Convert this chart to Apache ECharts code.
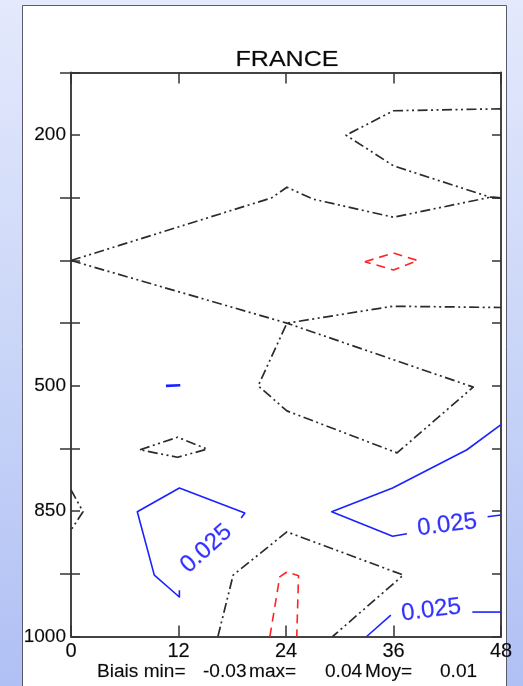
<!DOCTYPE html>
<html>
<head>
<meta charset="utf-8">
<script src="https://cdn.jsdelivr.net/npm/echarts/dist/echarts.min.js"></script>
<style>
  html, body { margin: 0; padding: 0; }
  #chart { width: 523px; height: 686px; }
</style>
</head>
<body>
<div id="chart"></div>
<script>
// Forecast hours on the x axis and pressure levels (hPa) on the y axis
const hourTicks = [0, 12, 24, 36, 48];
const levels = [100, 200, 250, 300, 400, 500, 700, 850, 925, 1000];
const labelledLevels = [200, 500, 850, 1000];

// Contour level drawn for the positive bias
const contourLevel = 0.025;

// Bias statistics written under the chart: min, max, mean
const biasStats = [-0.03, 0.04, 0.01];

// Contour polylines as [forecast hour, level index] pairs
// zero-bias contours
const zeroLines = [
  [[48, 0.58], [36, 0.61], [30.7, 1.0], [36, 1.49], [46.8, 1.99], [48, 2.0]],
  [[0, 3.0], [22.4, 2.0], [24.1, 1.83], [27.0, 2.02], [36, 2.31], [46.8, 1.99], [48, 2.0]],
  [[0, 3.0], [24.1, 4.0], [44.9, 5.02], [36.4, 6.07], [24.1, 5.4], [20.9, 5.0], [24.1, 4.0], [35.9, 3.73], [48, 3.75]],
  [[7.7, 6.02], [11.9, 5.82], [15.2, 6.01], [11.9, 6.14], [7.7, 6.02]],
  [[0, 6.66], [1.34, 7.01], [0, 7.3]],
  [[16.4, 9.0], [18.1, 8.02], [24.1, 7.33], [37.1, 8.02], [29.2, 9.0]]
];
// negative-bias contours
const negLines = [
  [[22.2, 9.0], [23.3, 8.05], [24.1, 7.97], [25.4, 8.03], [25.2, 9.0]],
  [[32.8, 3.02], [36.0, 2.88], [38.7, 3.0], [36.0, 3.15], [32.8, 3.02]]
];
// positive-bias contours (0.025), broken where the level label sits
const posLines = [
  [[19.0, 7.11], [19.4, 7.03], [12.1, 6.63], [7.4, 7.01], [9.3, 8.02], [12.1, 8.37], [12.1, 8.26]],
  [[48, 5.62], [44.2, 6.02], [35.9, 6.63], [29.1, 7.01], [35.9, 7.40], [37.5, 7.36]],
  [[46.5, 7.09], [48, 7.06]],
  [[33.0, 9.0], [35.7, 8.66]],
  [[44.8, 8.61], [48, 8.61]]
];
const posSpot = [[10.6, 5.0], [12.2, 4.99]];
// anchor points of the contour level labels
const posLabelPoints = [[15.1, 7.6], [42.0, 7.22], [40.2, 8.58]];
const posLabelAngles = [42, 7, 7];

const FONT = '"Liberation Sans", Arial, Helvetica, sans-serif';
const AXIS_COLOR = '#444444';
const TEXT_COLOR = '#0a0a0a';

const chart = echarts.init(document.getElementById('chart'), null, { renderer: 'canvas' });

function lineSeries(points, color, type, width) {
  return {
    type: 'line',
    xAxisIndex: 0,
    yAxisIndex: 0,
    data: points,
    showSymbol: false,
    symbol: 'none',
    smooth: false,
    silent: true,
    animation: false,
    clip: false,
    z: 3,
    lineStyle: { color: color, width: width, type: type, cap: 'butt', join: 'round' }
  };
}

const series = [];
zeroLines.forEach(p => series.push(lineSeries(p, '#2b2b2b', [10, 3.5, 2, 3.5, 2, 3.5], 1.7)));
negLines.forEach(p => series.push(lineSeries(p, '#ff2424', [9, 6], 1.6)));
posLines.forEach(p => series.push(lineSeries(p, '#1a22ff', 'solid', 1.6)));
series.push(lineSeries(posSpot, '#1a22ff', 'solid', 2.6));
series.push({
  type: 'scatter',
  xAxisIndex: 0,
  yAxisIndex: 0,
  symbolSize: 0,
  silent: true,
  animation: false,
  z: 4,
  data: posLabelPoints.map((p, i) => ({
    value: p,
    label: { rotate: posLabelAngles[i] }
  })),
  label: {
    show: true,
    position: 'inside',
    formatter: () => contourLevel.toFixed(3),
    color: '#0000ff',
    fontFamily: FONT,
    fontSize: 24,
    textBorderColor: 'rgba(0,0,255,0.35)',
    textBorderWidth: 0.6
  }
});

const statTexts = [
  { text: 'Biais min=', x: 97 },
  { text: biasStats[0].toFixed(2), x: 203 },
  { text: 'max=', x: 249 },
  { text: biasStats[1].toFixed(2), x: 325 },
  { text: 'Moy=', x: 365 },
  { text: biasStats[2].toFixed(2), x: 440 }
];

const option = {
  animation: false,
  backgroundColor: {
    type: 'linear', x: 0, y: 0, x2: 0, y2: 1,
    colorStops: [
      { offset: 0, color: '#e4e9fc' },
      { offset: 0.45, color: '#cdd8f8' },
      { offset: 1, color: '#b0c0f4' }
    ]
  },
  graphic: [
    {
      type: 'rect', z: -10,
      shape: { x: 22.5, y: 5.5, width: 484, height: 700 },
      style: { fill: '#ffffff', stroke: '#5a5a6a', lineWidth: 1 }
    },
    {
      type: 'text', x: 287, y: 60, scaleX: 1.14, z: 10,
      style: {
        text: 'FRANCE', align: 'center', verticalAlign: 'middle',
        font: '22px ' + FONT, fill: TEXT_COLOR,
        stroke: 'rgba(0,0,0,0.35)', lineWidth: 0.5
      }
    }
  ].concat(statTexts.map(t => ({
    type: 'text', x: t.x, y: 672, scaleX: 1.06, z: 10,
    style: {
      text: t.text, align: 'left', verticalAlign: 'middle', font: '18px ' + FONT,
      fill: TEXT_COLOR, stroke: 'rgba(0,0,0,0.3)', lineWidth: 0.4
    }
  }))),
  grid: { left: 71, right: 22, top: 72.5, bottom: 49.5, containLabel: false },
  xAxis: [
    {
      type: 'value', position: 'bottom', min: 0, max: 48, interval: 12,
      axisLine: { show: true, onZero: false, lineStyle: { color: AXIS_COLOR, width: 2 } },
      axisTick: { show: true, inside: true, length: 11, lineStyle: { color: '#333', width: 1.5 } },
      axisLabel: {
        show: true, margin: 5, color: TEXT_COLOR, fontFamily: FONT, fontSize: 20,
        textBorderColor: 'rgba(0,0,0,0.3)', textBorderWidth: 0.4,
        formatter: v => (hourTicks.includes(v) ? String(v) : '')
      },
      splitLine: { show: false }
    },
    {
      type: 'value', position: 'top', min: 0, max: 48, interval: 12,
      axisLine: { show: true, onZero: false, lineStyle: { color: AXIS_COLOR, width: 2 } },
      axisTick: { show: true, inside: true, length: 11, lineStyle: { color: '#333', width: 1.5 } },
      axisLabel: { show: false },
      splitLine: { show: false }
    }
  ],
  yAxis: [
    {
      type: 'value', position: 'left', min: 0, max: 9, interval: 1, inverse: true,
      axisLine: { show: true, onZero: false, lineStyle: { color: AXIS_COLOR, width: 2 } },
      axisTick: { show: true, inside: true, length: 9, lineStyle: { color: '#333', width: 1.5 } },
      axisLabel: {
        show: true, margin: 5, color: TEXT_COLOR, fontFamily: FONT, fontSize: 19,
        textBorderColor: 'rgba(0,0,0,0.3)', textBorderWidth: 0.4,
        formatter: v => (labelledLevels.includes(levels[v]) ? String(levels[v]) : '')
      },
      splitLine: { show: false }
    },
    {
      // outward ticks on the unlabelled levels
      type: 'category', position: 'left', inverse: true, boundaryGap: false,
      data: levels.map(String),
      axisLine: { show: false },
      axisTick: {
        show: true, inside: false, length: 11,
        interval: (i) => !labelledLevels.includes(levels[i]),
        lineStyle: { color: '#333', width: 1.5 }
      },
      axisLabel: { show: false },
      splitLine: { show: false }
    },
    {
      type: 'value', position: 'right', min: 0, max: 9, interval: 1, inverse: true,
      axisLine: { show: true, onZero: false, lineStyle: { color: AXIS_COLOR, width: 2 } },
      axisTick: { show: true, inside: true, length: 9, lineStyle: { color: '#333', width: 1.5 } },
      axisLabel: { show: false },
      splitLine: { show: false }
    }
  ],
  series: series
};

chart.setOption(option);
</script>
</body>
</html>
